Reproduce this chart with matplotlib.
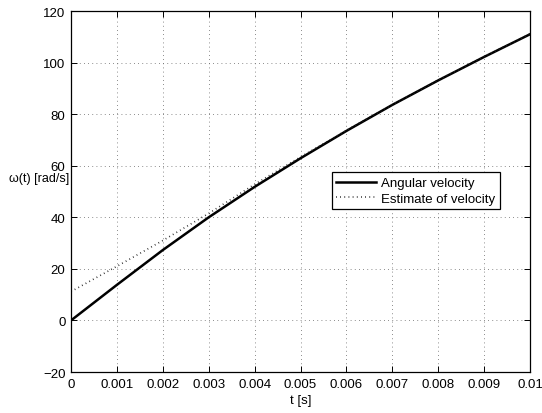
import matplotlib.pyplot as plt

plt.rcParams['font.family'] = ['Liberation Sans', 'DejaVu Sans']

# time samples [s]
t = [0.0, 0.001, 0.002, 0.003, 0.004, 0.005, 0.006, 0.007, 0.008, 0.009, 0.010]
# angular velocity [rad/s]
omega = [0.0, 13.8, 27.3, 40.0, 51.8, 62.9, 73.5, 83.6, 93.1, 102.2, 111.0]
# estimate of velocity [rad/s]
omega_est = [11.2, 21.0, 31.0, 41.5, 52.8, 63.4, 73.7, 83.7, 93.2, 102.3, 111.1]

xticks = [0, 0.001, 0.002, 0.003, 0.004, 0.005, 0.006, 0.007, 0.008, 0.009, 0.01]
xticklabels = ['0', '0.001', '0.002', '0.003', '0.004', '0.005', '0.006',
               '0.007', '0.008', '0.009', '0.01']
yticks = [-20, 0, 20, 40, 60, 80, 100, 120]

fig = plt.figure(figsize=(5.42, 4.14), dpi=100)
ax = fig.add_axes([0.131, 0.099, 0.847, 0.872])

ax.plot(t, omega, color='black', lw=1.8, label='Angular velocity')
ax.plot(t, omega_est, color='#222222', lw=1.2, linestyle=(0, (0.5, 2.0)),
        label='Estimate of velocity')

ax.set_xlim(0, 0.01)
ax.set_ylim(-20, 120)
ax.set_xticks(xticks)
ax.set_xticklabels(xticklabels)
ax.set_yticks(yticks)
ax.tick_params(direction='in', top=True, right=True, length=4, width=0.7,
               labelsize=9.5, colors='black', pad=4)
for s in ax.spines.values():
    s.set_linewidth(0.9)

ax.grid(True, color='#666666', linestyle=(0, (1, 4)), linewidth=0.6)

ax.set_xlabel('t [s]', fontsize=9.5, labelpad=3)
ax.set_ylabel('ω(t) [rad/s]', fontsize=9, rotation=0, ha='right', va='center')
ax.yaxis.set_label_coords(-0.004, 0.538)

leg = ax.legend(loc='upper left', bbox_to_anchor=(0.568, 0.553), fontsize=9.5,
                frameon=True, fancybox=False, edgecolor='black', framealpha=1,
                handlelength=3.0, handletextpad=0.4, borderpad=0.35,
                labelspacing=0.25, borderaxespad=0)
leg.get_frame().set_linewidth(0.9)

plt.savefig('out.png', dpi=100)
